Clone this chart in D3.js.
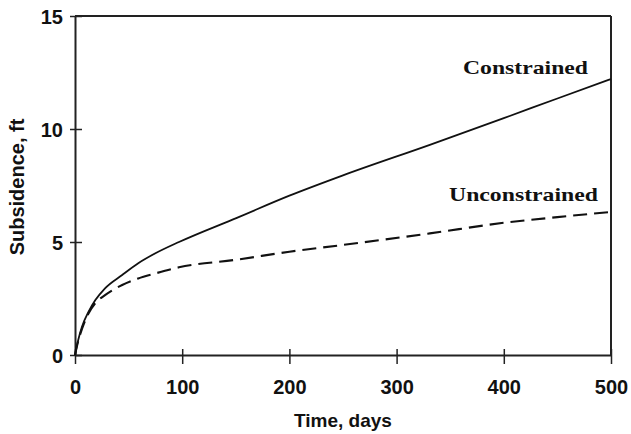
<html lang="en">
<head>
    <title>Subsidence vs time</title>
    <script src="https://d3js.org/d3.v7.min.js" charset="utf-8"></script>
    <style>
        body {
            margin: 0;
            background: #fff;
        }
        .axis text {
            font-family: "Liberation Sans", Arial, sans-serif;
            font-weight: bold;
            font-size: 20px;
            fill: #111;
        }
        .title {
            font-family: "Liberation Sans", Arial, sans-serif;
            font-weight: bold;
            fill: #111;
        }
        .series-label {
            font-family: "Liberation Serif", "Times New Roman", serif;
            font-weight: bold;
            font-size: 19px;
            fill: #111;
        }
    </style>
</head>
<body>
<script>
    // values
    var days = [0, 3, 6.5, 12.7, 19, 28, 44, 59, 75, 97, 151, 200, 250, 331, 400, 450, 500];
    var constrained = [0, 0.66, 1.25, 1.92, 2.43, 2.95, 3.54, 4.06, 4.5, 5.0, 6.07, 7.05, 7.95, 9.3, 10.48, 11.35, 12.21];
    var unconstrained = [0, 0.62, 1.15, 1.85, 2.3, 2.65, 3.1, 3.39, 3.61, 3.88, 4.22, 4.57, 4.87, 5.38, 5.85, 6.1, 6.33];
    var xTicks = [0, 100, 200, 300, 400, 500];
    var yTicks = [0, 5, 10, 15];

    var width = 631;
    var height = 434;

    var svg = d3.select("body")
        .append("svg")
        .attr("width", width)
        .attr("height", height);

    var x = d3.scaleLinear().domain([0, 500]).range([75, 611]);
    var y = d3.scaleLinear().domain([0, 15]).range([355, 16]);

    // frame (top + right)
    svg.append("line")
        .attr("x1", x(0)).attr("x2", x(500))
        .attr("y1", y(15)).attr("y2", y(15))
        .attr("stroke", "#222").attr("stroke-width", 2);
    svg.append("line")
        .attr("x1", x(500)).attr("x2", x(500))
        .attr("y1", y(15)).attr("y2", y(0))
        .attr("stroke", "#222").attr("stroke-width", 2);

    // x axis, ticks crossing the line
    var gx = svg.append("g")
        .attr("class", "axis")
        .attr("transform", "translate(0," + y(0) + ")")
        .call(d3.axisBottom(x).tickValues(xTicks).tickSizeOuter(0));
    gx.select(".domain").attr("stroke", "#222").attr("stroke-width", 2);
    gx.selectAll(".tick line").attr("y1", -6).attr("y2", 9)
        .attr("stroke", "#222").attr("stroke-width", 1.5);
    gx.selectAll(".tick text").attr("y", 39).attr("dy", 0);

    // y axis
    var gy = svg.append("g")
        .attr("class", "axis")
        .attr("transform", "translate(" + x(0) + ",0)")
        .call(d3.axisLeft(y).tickValues(yTicks).tickSizeOuter(0));
    gy.select(".domain").attr("stroke", "#222").attr("stroke-width", 2);
    gy.selectAll(".tick line").attr("x1", -5).attr("x2", 7)
        .attr("stroke", "#222").attr("stroke-width", 1.5);
    gy.selectAll(".tick text").attr("x", -12).attr("dy", "0.36em");

    // axis titles
    svg.append("text")
        .attr("class", "title")
        .attr("x", 343).attr("y", 427)
        .attr("text-anchor", "middle")
        .style("font-size", "19px")
        .text("Time, days");

    svg.append("text")
        .attr("class", "title")
        .attr("transform", "translate(24,187) rotate(-90)")
        .attr("text-anchor", "middle")
        .style("font-size", "20px")
        .text("Subsidence, ft");

    var line = d3.line()
        .x(function(d) { return x(d[0]); })
        .y(function(d) { return y(d[1]); })
        .curve(d3.curveMonotoneX);

    svg.append("path")
        .datum(d3.zip(days, unconstrained))
        .attr("fill", "none")
        .attr("stroke", "#111")
        .attr("stroke-width", 2.1)
        .attr("stroke-dasharray", "14,7")
        .attr("d", line);

    svg.append("path")
        .datum(d3.zip(days, constrained))
        .attr("fill", "none")
        .attr("stroke", "#111")
        .attr("stroke-width", 1.8)
        .attr("d", line);

    // series labels
    svg.append("text")
        .attr("class", "series-label")
        .attr("x", 463).attr("y", 74)
        .attr("textLength", 125)
        .attr("lengthAdjust", "spacingAndGlyphs")
        .text("Constrained");

    svg.append("text")
        .attr("class", "series-label")
        .attr("x", 449).attr("y", 201)
        .attr("textLength", 149)
        .attr("lengthAdjust", "spacingAndGlyphs")
        .text("Unconstrained");
</script>
</body>
</html>
